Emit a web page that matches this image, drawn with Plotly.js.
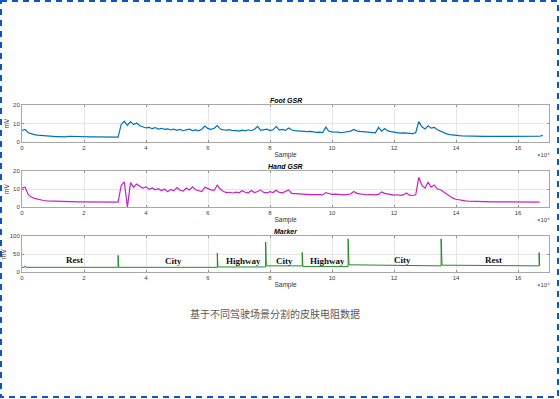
<!DOCTYPE html>
<html><head><meta charset="utf-8">
<script src="https://cdn.plot.ly/plotly-3.0.1.min.js"></script>
<style>
html,body{margin:0;padding:0;background:#fff;}
#wrap{position:relative;width:560px;height:399px;overflow:hidden;}
#chart{position:absolute;left:0;top:0;width:560px;height:399px;}
#frame{position:absolute;left:0;top:0;pointer-events:none;}
</style></head><body>
<div id="wrap"><div id="chart"></div>
<svg id="frame" width="560" height="399"><rect x="1" y="1" width="557" height="396" fill="none" stroke="#0a56c8" stroke-width="2" stroke-dasharray="6,5"/></svg>
</div>
<script>
// Sample axis in units of 10^4, foot/hand sampled every 0.1 (x10^4)
const footGSR = [
 6.2,6.8,5.0,4.4,4.0,3.7,3.5,3.3,3.2,3.1,
 3.0,2.9,2.9,2.8,2.8,3.1,3.0,2.9,2.9,2.9,
 2.9,2.8,2.8,2.8,2.8,2.7,2.7,2.7,2.7,2.7,
 2.6,2.6,9.5,11.2,9.0,11.0,9.4,10.3,8.8,8.0,
 7.6,7.9,7.2,7.8,7.0,7.4,6.8,7.1,6.5,6.9,
 6.3,6.8,6.1,6.6,6.9,6.2,6.5,6.0,6.9,8.6,
 7.2,6.8,7.4,8.9,7.0,6.6,6.4,6.7,6.1,6.3,
 5.9,6.4,6.0,6.6,6.1,6.9,8.5,6.3,6.5,6.9,
 6.2,6.6,8.4,6.4,6.8,6.3,7.6,6.5,6.2,6.0,
 5.8,6.0,5.6,5.7,5.4,5.2,5.3,5.1,8.0,5.8,
 5.5,5.6,5.3,5.0,5.4,5.6,5.9,6.8,6.0,5.7,
 5.5,5.2,5.4,5.2,5.0,7.9,5.9,7.3,6.0,5.6,
 5.3,5.0,4.8,4.9,4.6,4.7,4.5,5.0,11.0,8.2,
 7.0,8.8,7.5,7.9,6.6,5.8,5.0,4.4,4.0,3.7,
 3.5,3.4,3.3,3.2,3.2,3.1,3.1,3.1,3.0,3.0,
 3.0,3.0,3.0,2.9,2.9,2.9,2.9,2.9,2.9,2.9,
 2.9,2.8,2.8,2.8,2.8,2.8,2.8,3.1,3.6
];
const handGSR = [
 10.5,11.0,7.0,5.5,4.8,4.3,3.9,3.6,3.4,3.3,
 3.2,3.1,3.0,3.0,2.9,2.9,2.9,2.8,2.8,2.8,
 2.8,2.8,2.7,2.7,2.7,2.7,2.7,2.7,2.7,2.7,
 2.7,2.7,12.0,14.0,0.0,13.5,11.0,12.8,11.5,10.5,
 11.2,9.8,10.6,9.6,10.2,9.0,10.0,8.5,9.8,9.0,
 10.8,9.3,8.8,10.5,9.4,11.2,9.6,9.0,8.6,11.0,
 10.2,9.5,9.2,12.2,9.8,8.6,8.0,8.2,7.8,8.3,
 7.9,9.0,8.2,7.9,9.2,8.0,8.6,9.4,8.1,7.8,
 8.5,8.0,9.3,8.1,7.9,8.8,9.5,7.6,7.4,7.3,
 7.1,7.2,7.0,6.9,7.0,6.8,6.9,6.7,8.0,7.5,
 7.0,7.1,6.8,6.9,6.7,6.8,7.2,8.6,7.6,7.3,
 7.0,6.8,6.9,6.6,6.7,7.0,8.4,7.6,7.2,6.9,
 6.6,6.8,6.5,6.7,7.8,6.6,6.4,6.8,16.5,12.0,
 10.5,13.8,11.0,12.2,10.0,9.6,8.4,7.0,5.8,4.9,
 4.3,3.9,3.6,3.4,3.3,3.2,3.1,3.1,3.0,3.0,
 3.0,3.0,2.9,2.9,2.9,2.9,2.9,2.8,2.8,2.8,
 2.8,2.8,2.8,2.7,2.7,2.7,2.7,2.7
];
const markerX = [0,0.08,0.1,0.13,3.1,3.1,3.12,6.3,6.3,6.32,7.86,7.86,7.88,9.04,9.04,9.06,10.52,10.52,10.55,13.52,13.52,13.55,16.68,16.68,16.7];
const markerY = [13,13,17,13,13,46,13,13,52,14,14,83,17,17,54,15,15,92,20,17,92,19,17,54,17];
const sceneNames = ['Rest','City','Highway','City','Highway','City','Rest'];
const sceneX = [1.68,4.88,7.13,8.47,9.87,12.28,15.2];
const sceneY = [32,30,30,30,30,33,32];
const xTicks = [0,2,4,6,8,10,12,14,16];
const panelTitles = ['Foot GSR','Hand GSR','Marker'];
const caption = '基于不同驾驶场景分割的皮肤电阻数据';

const H = 399;
const panels = [[105,142],[171,207],[236,272]]; // top,bottom px
const dom = p => [1 - p[1]/H, 1 - p[0]/H];
const tickFont = {family:'Liberation Sans, Arial', size:6, color:'#404040'};
const labFont = {family:'Liberation Sans, Arial', size:6.5, color:'#303030'};

function xax(anchor){
  return {domain:[0,1], anchor:anchor, range:[0,17], tickvals:xTicks, ticks:'inside', ticklen:2,
    tickcolor:'#909090', showline:true, mirror:'ticks', linecolor:'#a8a8a8', linewidth:1,
    showgrid:true, gridcolor:'#e6e6e6', zeroline:false, tickfont:tickFont,
    title:{text:'Sample', font:labFont, standoff:2}};
}
function yax(anchor, d, rng, tv){
  return {domain:d, anchor:anchor, range:rng, tickvals:tv, ticks:'inside', ticklen:2,
    tickcolor:'#909090', showline:true, mirror:'ticks', linecolor:'#a8a8a8', linewidth:1,
    showgrid:true, gridcolor:'#e6e6e6', zeroline:false, tickfont:tickFont,
    title:{text:'mV', font:labFont, standoff:2}};
}

const traces = [
  {type:'scatter', mode:'lines', y:footGSR, x0:0, dx:0.1, xaxis:'x', yaxis:'y', line:{color:'#0072BD', width:1.2}, name:'Foot GSR'},
  {type:'scatter', mode:'lines', y:handGSR, x0:0, dx:0.1, xaxis:'x2', yaxis:'y2', line:{color:'#C81EC8', width:1.2}, name:'Hand GSR'},
  {type:'scatter', mode:'lines', x:markerX, y:markerY, xaxis:'x3', yaxis:'y3', line:{color:'#1E8C1E', width:1}, name:'Marker'}
];

const annotations = [];
panels.forEach((p,i)=>{
  annotations.push({xref:'paper', yref:'paper', x:0.5, y:1-(p[0]-5)/H, xanchor:'center', yanchor:'middle',
    text:panelTitles[i], showarrow:false,
    font:{family:'Liberation Sans, Arial', size:7, color:'#000', weight:'bold', style:'italic'}});
  annotations.push({xref:'paper', yref:'paper', x:(543-22)/527, y:1-(p[1]+13)/H, xanchor:'center', yanchor:'middle',
    text:'×10⁴', showarrow:false, font:{family:'Liberation Sans, Arial', size:6, color:'#404040'}});
});
sceneNames.forEach((s,i)=>{
  annotations.push({xref:'x3', yref:'y3', x:sceneX[i], y:sceneY[i], text:s, showarrow:false,
    font:{family:'Liberation Serif, Times New Roman', size:9, color:'#111', weight:'bold'}});
});
annotations.push({xref:'paper', yref:'paper', x:(275-22)/527, y:1-313/H, xanchor:'center', yanchor:'middle',
  text:caption, showarrow:false, font:{family:'Noto Sans CJK SC', size:10, color:'#595959'}});

const layout = {
  width:560, height:399, margin:{l:22, r:11, t:0, b:0}, showlegend:false,
  paper_bgcolor:'#fff', plot_bgcolor:'#fff',
  xaxis:xax('y'), yaxis:yax('x', dom(panels[0]), [0,20], [0,10,20]),
  xaxis2:xax('y2'), yaxis2:yax('x2', dom(panels[1]), [0,20], [0,10,20]),
  xaxis3:xax('y3'), yaxis3:yax('x3', dom(panels[2]), [0,100], [0,50,100]),
  annotations:annotations
};
Plotly.newPlot('chart', traces, layout, {staticPlot:true, displayModeBar:false});
</script>
</body></html>
